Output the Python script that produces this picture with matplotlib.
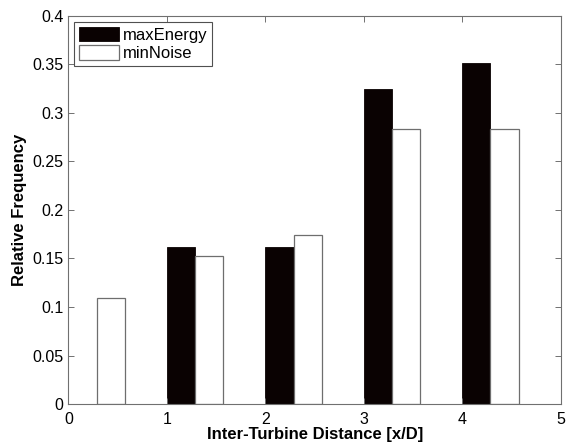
import matplotlib
matplotlib.use('Agg')
import matplotlib.pyplot as plt
import numpy as np

plt.rcParams['font.family'] = ['Liberation Sans', 'DejaVu Sans']

# Datos
distancias = [0, 1, 2, 3, 4]
max_energy = [0.0, 0.162, 0.162, 0.324, 0.351]
min_noise = [0.109, 0.152, 0.174, 0.283, 0.283]
etiquetas_y = ['0', '0.05', '0.1', '0.15', '0.2', '0.25', '0.3', '0.35', '0.4']

ancho = 0.285
x = np.array(distancias, dtype=float)

fig = plt.figure(figsize=(5.66, 4.48), dpi=100)
ax = fig.add_axes([0.121, 0.098, 0.870, 0.867])

ax.bar(x, max_energy, width=ancho, align='edge', color='#0a0202',
       edgecolor='#0a0202', linewidth=0.6, label='maxEnergy')
ax.bar(x + ancho, min_noise, width=ancho, align='edge', color='white',
       edgecolor='#6e6e6e', linewidth=0.9, label='minNoise')

ax.set_xlim(0, 5)
ax.set_ylim(0, 0.4)
ax.set_xticks(range(6))
ax.set_yticks(np.arange(0, 0.401, 0.05))
ax.set_yticklabels(etiquetas_y)
ax.tick_params(direction='in', length=4, width=0.7, colors='#707070',
               labelcolor='black', labelsize=11.5, top=True, right=True)
ax.tick_params(axis='x', pad=6)
for s in ax.spines.values():
    s.set_color('#707070')
    s.set_linewidth(0.8)

ax.set_xlabel('Inter-Turbine Distance [x/D]', fontsize=12,
              fontweight='bold', labelpad=0)
ax.set_ylabel('Relative Frequency', fontsize=12, fontweight='bold',
              labelpad=4)

leg = ax.legend(loc='upper left', fancybox=False, framealpha=1,
                edgecolor='#505050', fontsize=12, handlelength=2.4,
                handleheight=1.0, borderaxespad=0.35, borderpad=0.3,
                labelspacing=0.15, handletextpad=0.2)
leg.get_frame().set_linewidth(0.8)

fig.savefig('out.png', dpi=100)
